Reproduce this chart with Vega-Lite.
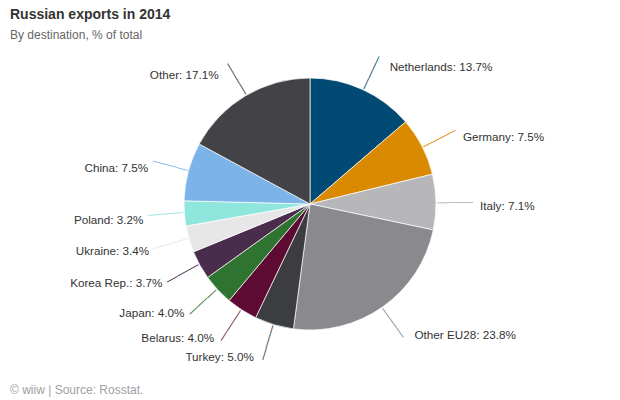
{
  "$schema": "https://vega.github.io/schema/vega-lite/v6.json",
  "background": "#ffffff",
  "padding": {"left": 10, "right": 10, "top": 8, "bottom": 2},
  "title": {
    "text": "© wiiw | Source: Rosstat.",
    "orient": "bottom",
    "anchor": "start",
    "font": "Liberation Sans",
    "fontSize": 12,
    "fontWeight": "normal",
    "color": "#a0a0a0",
    "offset": 20
  },
  "config": {"view": {"stroke": null}},
  "vconcat": [
    {
      "title": {
        "text": "Russian exports in 2014",
        "subtitle": "By destination, % of total",
        "anchor": "start",
        "font": "Liberation Sans",
        "fontSize": 14,
        "fontWeight": "bold",
        "color": "#333333",
        "subtitleFont": "Liberation Sans",
        "subtitleFontSize": 12,
        "subtitleColor": "#666666",
        "subtitlePadding": 8,
        "offset": 2
      },
      "width": 600,
      "height": 322,
      "data": {
        "values": [
          {"country": "Netherlands", "share": 13.7},
          {"country": "Germany", "share": 7.5},
          {"country": "Italy", "share": 7.1},
          {"country": "Other EU28", "share": 23.8},
          {"country": "Turkey", "share": 5.0},
          {"country": "Belarus", "share": 4.0},
          {"country": "Japan", "share": 4.0},
          {"country": "Korea Rep.", "share": 3.7},
          {"country": "Ukraine", "share": 3.4},
          {"country": "Poland", "share": 3.2},
          {"country": "China", "share": 7.5},
          {"country": "Other", "share": 17.1}
        ]
      },
      "transform": [{"window": [{"op": "row_number", "as": "idx"}]}],
      "encoding": {
        "theta": {"field": "share", "type": "quantitative", "stack": true, "scale": {"domain": [0, 100]}},
        "order": {"field": "idx", "type": "quantitative"},
        "color": {
          "field": "country",
          "type": "nominal",
          "legend": null,
          "scale": {
            "domain": ["Netherlands", "Germany", "Italy", "Other EU28", "Turkey", "Belarus", "Japan", "Korea Rep.", "Ukraine", "Poland", "China", "Other"],
            "range": ["#014a74", "#d98a00", "#b7b7ba", "#8a898e", "#3b3d41", "#5e0b33", "#2e7430", "#4a2c4d", "#e7e7e8", "#8ee6dd", "#7cb4ea", "#434247"]
          }
        }
      },
      "layer": [
        {
          "mark": {"type": "arc", "radius": 126, "stroke": "#ffffff", "strokeWidth": 0.7}
        },
        {
          "mark": {
            "type": "text",
            "text": "———",
            "radius": 145,
            "font": "Liberation Sans",
            "fontSize": 12,
            "align": "center",
            "baseline": "middle",
            "angle": {"expr": "(datum.share_start + datum.share_end) * 1.8 - 90"}
          }
        },
        {
          "mark": {
            "type": "text",
            "radius": 155,
            "font": "Liberation Sans",
            "fontSize": 11.7,
            "fill": "#333333",
            "baseline": "middle",
            "dy": 4,
            "text": {"expr": "datum.country + ': ' + format(datum.share, '.1f') + '%'"},
            "align": {"expr": "datum.share_start + datum.share_end < 100 ? 'left' : 'right'"},
            "dx": {"expr": "datum.share_start + datum.share_end < 100 ? 15 : -12"}
          },
          "encoding": {"color": {"value": "#333333"}}
        }
      ]
    }
  ]
}
